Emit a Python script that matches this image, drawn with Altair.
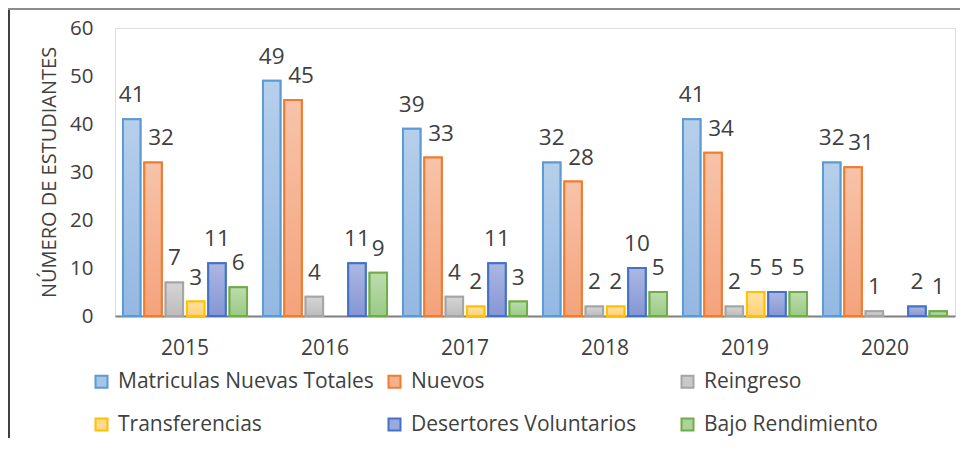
import altair as alt
import pandas as pd

years = ["2015", "2016", "2017", "2018", "2019", "2020"]
series = ["Matriculas Nuevas Totales", "Nuevos", "Reingreso",
          "Transferencias", "Desertores Voluntarios", "Bajo Rendimiento"]
matriculas = [41, 49, 39, 32, 41, 32]
nuevos = [32, 45, 33, 28, 34, 31]
reingreso = [7, 4, 4, 2, 2, 1]
transferencias = [3, None, 2, 2, 5, None]
desertores = [11, 11, 11, 10, 5, 2]
bajo = [6, 9, 3, 5, 5, 1]
y_ticks = [0, 10, 20, 30, 40, 50, 60]

fills = ["#a6c5e8", "#f5b18f", "#c9c9c9", "#ffd98c", "#99aadd", "#acd29a"]
tops = ["#b6cfeb", "#f7c3a9", "#d5d5d5", "#ffe3a6", "#acb7e3", "#bddcae"]
bottoms = ["#93b8e2", "#f4a37b", "#bcbcbc", "#ffd175", "#8596d4", "#9bca86"]
strokes = ["#5b9bd5", "#ed7d31", "#a5a5a5", "#ffc000", "#4472c4", "#70ad47"]

rows = []
for s, vals in zip(series, [matriculas, nuevos, reingreso, transferencias, desertores, bajo]):
    for yr, v in zip(years, vals):
        if v is not None:
            rows.append({"year": yr, "series": s, "value": v})
df = pd.DataFrame(rows)

FONT = "Open Sans"
TXT = "#404040"

x_enc = alt.X("year:N", sort=years,
              scale=alt.Scale(paddingInner=0.114, paddingOuter=0.057),
              axis=alt.Axis(title=None, labelAngle=0, ticks=False, domainColor="#7f7f7f",
                            domainWidth=2, labelFontSize=21, labelPadding=21,
                            labelColor=TXT, labelFont=FONT))
xo_enc = alt.XOffset("series:N", sort=series, scale=alt.Scale(paddingInner=0.18))
y_enc = alt.Y("value:Q", scale=alt.Scale(domain=[0, 60]),
              axis=alt.Axis(values=y_ticks, title="NÚMERO  DE ESTUDIANTES", grid=False,
                            domain=False, ticks=False, labelFontSize=20.5, labelPadding=22,
                            labelColor=TXT, labelFont=FONT, titleFont=FONT,
                            titleFontSize=20, titleFontWeight="normal", titleColor=TXT,
                            titleAngle=270, titleX=-60, titleY=144,
                            titleBaseline="alphabetic", titleAlign="center"))

leg = alt.Legend(title=None, orient="none", legendX=-24, legendY=343, columns=3,
                 direction="horizontal",
                 gridAlign="all", columnPadding=10, rowPadding=21, symbolType="square",
                 symbolSize=144, symbolStrokeWidth=2, symbolOpacity=1,
                 labelFontSize=21, labelFont=FONT, labelColor=TXT, labelOffset=6,
                 labelLimit=400, padding=0)

base = alt.Chart(df)
bars = base.mark_bar(strokeWidth=2, opacity=1).encode(
    x=x_enc, xOffset=xo_enc, y=y_enc,
    color=alt.Color("series:N", sort=series, scale=alt.Scale(domain=series, range=fills), legend=leg),
    stroke=alt.Stroke("series:N", sort=series, scale=alt.Scale(domain=series, range=strokes), legend=leg),
)

grad_layers = []
for s, t, b, st in zip(series, tops, bottoms, strokes):
    g = alt.Gradient(gradient="linear",
                     stops=[alt.GradientStop(color=t, offset=0), alt.GradientStop(color=b, offset=1)],
                     x1=0, x2=0, y1=0, y2=1)
    grad_layers.append(
        base.transform_filter(alt.datum.series == s)
        .mark_bar(fill=g, stroke=st, strokeWidth=2)
        .encode(x=x_enc, xOffset=xo_enc, y=y_enc)
    )

labels = base.transform_filter(alt.datum.series != "Nuevos").mark_text(
    dy=-17, baseline="alphabetic", fontSize=22.5, font=FONT, color=TXT).encode(
    x=x_enc, xOffset=xo_enc, y=y_enc, text="value:Q")
labels_nuevos = base.transform_filter(alt.datum.series == "Nuevos").mark_text(
    dy=-17, dx=8, baseline="alphabetic", fontSize=22.5, font=FONT, color=TXT).encode(
    x=x_enc, xOffset=xo_enc, y=y_enc, text="value:Q")

one = pd.DataFrame({"a": [0]})
left_rule = alt.Chart(one).mark_rule(color="#404040", strokeWidth=2).encode(
    x=alt.value(-106), y=alt.value(-20), y2=alt.value(430))
top_rule = alt.Chart(one).mark_rule(color="#8c8c8c", strokeWidth=2).encode(
    x=alt.value(-107), x2=alt.value(860), y=alt.value(-19))

chart = alt.layer(bars, *grad_layers, labels, labels_nuevos, left_rule, top_rule).properties(
    width=840, height=288,
    padding={"left": 107, "top": 20, "right": 5, "bottom": 122},
    autosize=alt.AutoSizeParams(type="none"),
).configure_view(stroke=None).configure(background="white")

chart.save("out.html", embed_options={"renderer": "svg", "actions": False})
